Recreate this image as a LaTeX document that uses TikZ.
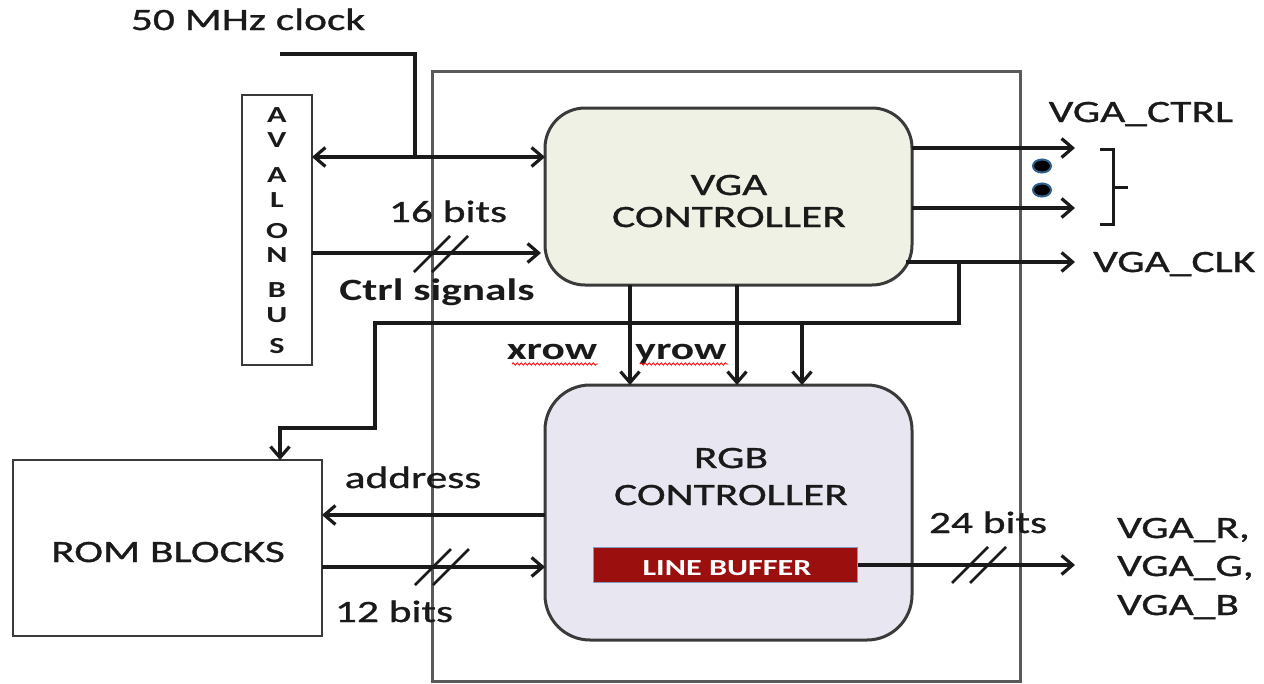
\documentclass[tikz,border=0pt]{standalone}
\usepackage{fontspec}
\setmainfont{Carlito}[FakeStretch=1.4,UprightFeatures={FakeBold=1}]
\usetikzlibrary{arrows.meta,decorations.pathmorphing,shapes.geometric}
\definecolor{vgafill}{HTML}{EEF1E3}
\definecolor{rgbfill}{HTML}{E8E6F0}
\definecolor{lbfill}{HTML}{9B0F0F}
\definecolor{lbedge}{HTML}{7F9CC0}
\definecolor{framegray}{HTML}{5A5A5A}
\definecolor{ink}{HTML}{1A1A1A}
\definecolor{boxedge}{HTML}{3A3A3A}
\definecolor{dotedge}{HTML}{2E5E8E}
\begin{document}
\begin{tikzpicture}[x=1pt,y=-1pt,
  >={Straight Barb[length=11pt,width=19pt]},
  wire/.style={draw=ink,line width=3.2pt},
  block/.style={draw=boxedge,line width=3pt,inner sep=0pt,outer sep=0pt},
  lbl/.style={font=\fontsize{31}{36}\selectfont,text=ink,inner sep=0pt},
  blbl/.style={font=\fontsize{31}{36}\selectfont\bfseries,text=ink,inner sep=0pt},
  bus/.pic={\draw[draw=ink,line width=2.6pt] (-27,18) -- (9,-18) (-9,18) -- (27,-18);},
  squig/.style={draw=red,line width=0.8pt,decorate,decoration={snake,amplitude=1.2pt,segment length=4pt}},
  dot/.style={ellipse,fill=black,draw=dotedge,line width=2pt,minimum width=18pt,minimum height=13pt,inner sep=0pt}
]
\useasboundingbox (0,0) rectangle (1264,683);

% outer frame
\draw[framegray,line width=3pt] (432,71) rectangle (1020,681);

% blocks
\node[block,fill=vgafill,rounded corners=40pt,minimum width=367pt,minimum height=177pt] (vga) at (728.5,196.5) {};
\node[block,fill=rgbfill,rounded corners=45pt,minimum width=367pt,minimum height=255pt] (rgb) at (728.5,512.5) {};
\node[block,line width=2.5pt,minimum width=309pt,minimum height=176pt] (rom) at (167.5,548) {};
\node[block,line width=2.5pt,minimum width=70pt,minimum height=270pt] (avalon) at (277,230) {};
\node[fill=lbfill,draw=lbedge,line width=1.5pt,minimum width=264pt,minimum height=35pt,inner sep=0pt] (lb) at (725.5,565) {};

% texts
\node[lbl,anchor=base] (clk) at (248,30) {50 MHz clock};
\node[lbl,anchor=base] (vgat1) at (729,195) {VGA};
\node[lbl,anchor=base] (vgat2) at (729,227) {CONTROLLER};
\node[lbl,anchor=base] (rgbt1) at (731,468) {RGB};
\node[lbl,anchor=base] (rgbt2) at (731,505) {CONTROLLER};
\node[anchor=base,text=white,inner sep=0pt,font=\fontsize{23}{28}\selectfont\bfseries] (lbt) at (727,575) {LINE BUFFER};
\node[lbl,anchor=base] (romt) at (168,562) {ROM BLOCKS};
\node[lbl,anchor=base] (b16) at (448,222) {16 bits};
\node[blbl,anchor=base] (ctrl) at (437,300) {Ctrl signals};
\node[blbl,anchor=base] (xrow) at (552,359) {xrow};
\node[blbl,anchor=base] (yrow) at (681,359) {yrow};
\node[lbl,anchor=base] (addr) at (413,488) {address};
\node[lbl,anchor=base] (b12) at (394,622) {12 bits};
\node[lbl,anchor=base] (b24) at (988,533) {24 bits};
\node[lbl,anchor=base] (vctrl) at (1141,122) {VGA\_CTRL};
\node[lbl,anchor=base west] (vclk) at (1093,272) {VGA\_CLK};
\node[lbl,anchor=base west] (vr) at (1117,538) {VGA\_R,};
\node[lbl,anchor=base west] (vg) at (1117,576) {VGA\_G,};
\node[lbl,anchor=base west] (vb) at (1117,615) {VGA\_B};
\foreach \ch/\yb [count=\i] in {A/122,V/147,A/182,L/207,O/238,N/262,B/297,U/322,S/353}
  \node[anchor=base,inner sep=0pt,text=ink,font=\fontsize{23}{26}\selectfont\bfseries] (av\i) at (277,\yb) {\ch};

% spell-check squiggles
\draw[squig] (512,364) -- (598,364);
\draw[squig] (640,364) -- (728,364);

% clock input
\coordinate (clkin) at (280,54);
\coordinate (clkj) at (415,157);
\draw[wire] (clkin) -| (clkj);
\draw[wire,<->] (avalon.east |- clkj) -- (vga.west |- clkj);

% ctrl signals
\coordinate (ctl) at (541,253);
\draw[wire,->] (avalon.east |- ctl) -- (ctl);
\pic at (441,254) {bus};

% VGA_CTRL outputs
\coordinate (o1) at (1075,148);
\coordinate (o2) at (1075,208);
\draw[wire,->] (vga.east |- o1) -- (o1);
\draw[wire,->] (vga.east |- o2) -- (o2);
\node[dot] (d1) at (1042,166) {};
\node[dot] (d2) at (1042,190) {};
\coordinate (bt) at (1100,149);
\coordinate (bb) at (1100,224);
\coordinate (bj) at (1113,187);
\coordinate (bm) at (1128,187);
\draw[wire,line width=3pt] (bt) -- ++(13,0) |- (bb);
\draw[wire,line width=3pt] (bj) -- (bm);

% VGA_CLK
\coordinate (vcs) at (906,262);
\coordinate (vce) at (1075,262);
\draw[wire,->] (vcs) -- (vce);

% branch to ROM and RGB
\coordinate (brj) at (959,262);
\coordinate (br2) at (375,323);
\coordinate (br3) at (280,428);
\draw[wire,->] (brj) |- (br2) |- (br3) -- (rom.north -| br3);
\coordinate (za) at (802,323);
\draw[wire,->] (za) -- (rgb.north -| za);

% xrow / yrow
\coordinate (xa) at (630,0);
\coordinate (ya) at (737,0);
\draw[wire,->] (vga.south -| xa) -- (rgb.north -| xa);
\draw[wire,->] (vga.south -| ya) -- (rgb.north -| ya);

% address and data
\coordinate (ad) at (0,515);
\coordinate (dt) at (0,567);
\draw[wire,->] (rgb.west |- ad) -- (rom.east |- ad);
\draw[wire,->] (rom.east |- dt) -- (rgb.west |- dt);
\pic at (442,567) {bus};

% RGB out
\coordinate (rgbout) at (1075,565);
\draw[wire,->] (lb.east) -- (rgbout);
\pic at (979,565) {bus};
\end{tikzpicture}
\end{document}
